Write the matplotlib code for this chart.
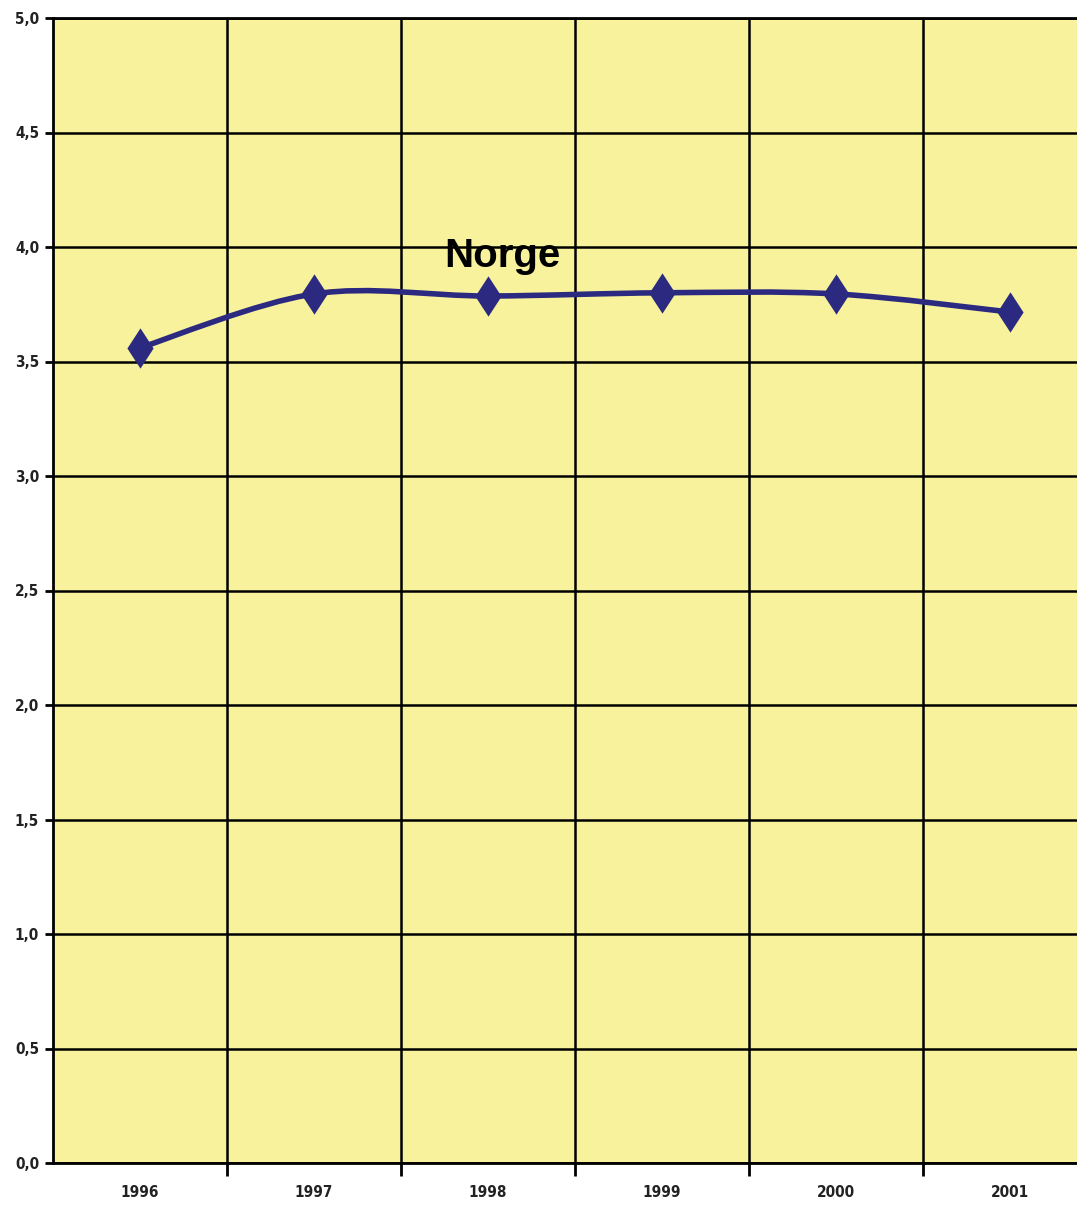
import matplotlib
matplotlib.use("Agg")
import matplotlib.pyplot as plt
from matplotlib.path import Path
from matplotlib.patches import PathPatch
from matplotlib.ticker import FixedLocator, FuncFormatter

years = ["1996", "1997", "1998", "1999", "2000", "2001"]
values = [3.56, 3.795, 3.786, 3.80, 3.795, 3.716]
series_label = "Norge"
y_ticks = [0.0, 0.5, 1.0, 1.5, 2.0, 2.5, 3.0, 3.5, 4.0, 4.5, 5.0]

line_color = "#2b2a80"
bg_color = "#f7f29b"

fig = plt.figure(figsize=(10.77, 12.08), dpi=100)
ax = fig.add_axes([53/1077, 1 - 1163/1208, 1 - 53/1077, (1163 - 18)/1208])
ax.set_facecolor(bg_color)

xs = list(range(len(years)))
n = len(xs)

# smoothed line (Catmull-Rom as cubic Bezier)
verts = [(xs[0], values[0])]
codes = [Path.MOVETO]
for i in range(n - 1):
    p0 = (xs[max(i - 1, 0)], values[max(i - 1, 0)])
    p1 = (xs[i], values[i])
    p2 = (xs[i + 1], values[i + 1])
    p3 = (xs[min(i + 2, n - 1)], values[min(i + 2, n - 1)])
    c1 = (p1[0] + (p2[0] - p0[0]) / 6, p1[1] + (p2[1] - p0[1]) / 6)
    c2 = (p2[0] - (p3[0] - p1[0]) / 6, p2[1] - (p3[1] - p1[1]) / 6)
    verts += [c1, c2, p2]
    codes += [Path.CURVE4] * 3
ax.add_patch(PathPatch(Path(verts, codes), facecolor="none", edgecolor=line_color,
                       lw=4.0, zorder=3, capstyle="round", joinstyle="round"))
diamond = [(0, 1), (0.65, 0), (0, -1), (-0.65, 0), (0, 1)]
ax.plot(xs, values, linestyle="none", marker=diamond, markersize=29, markeredgewidth=0,
        color=line_color, zorder=4)

ax.text(2.08, 3.96, series_label, fontsize=29, fontweight="bold", ha="center", va="center",
        color="black", family=["Liberation Sans", "DejaVu Sans"], zorder=5)

# axes
ax.set_xlim(-0.5, -0.5 + (1077 - 53) / 174.0)
ax.set_ylim(0, 5)
ax.spines["right"].set_visible(False)
for s in ["left", "bottom", "top"]:
    ax.spines[s].set_linewidth(2)
    ax.spines[s].set_color("black")

ax.yaxis.set_major_locator(FixedLocator(y_ticks))
ax.yaxis.set_major_formatter(FuncFormatter(lambda v, p: f"{v:.1f}".replace(".", ",")))
ax.grid(axis="y", color="black", lw=1.8, zorder=1)

bounds = [i + 0.5 for i in range(n)]
ax.xaxis.set_major_locator(FixedLocator(xs))
ax.set_xticklabels(years)
ax.xaxis.set_minor_locator(FixedLocator(bounds))
for b in bounds:
    ax.axvline(b, color="black", lw=1.8, zorder=1)

ax.tick_params(axis="x", which="major", length=0, pad=16)
ax.tick_params(axis="x", which="minor", length=9, width=2, direction="out")
ax.tick_params(axis="y", length=6, width=2, direction="out", pad=4)
ax.set_axisbelow(True)

for lab in ax.get_xticklabels() + ax.get_yticklabels():
    lab.set_family(["DejaVu Sans"])
    lab.set_fontstretch("condensed")
    lab.set_fontweight("bold")
    lab.set_fontsize(11)
    lab.set_color("#222222")

fig.savefig("out.png", dpi=100, facecolor="white")
